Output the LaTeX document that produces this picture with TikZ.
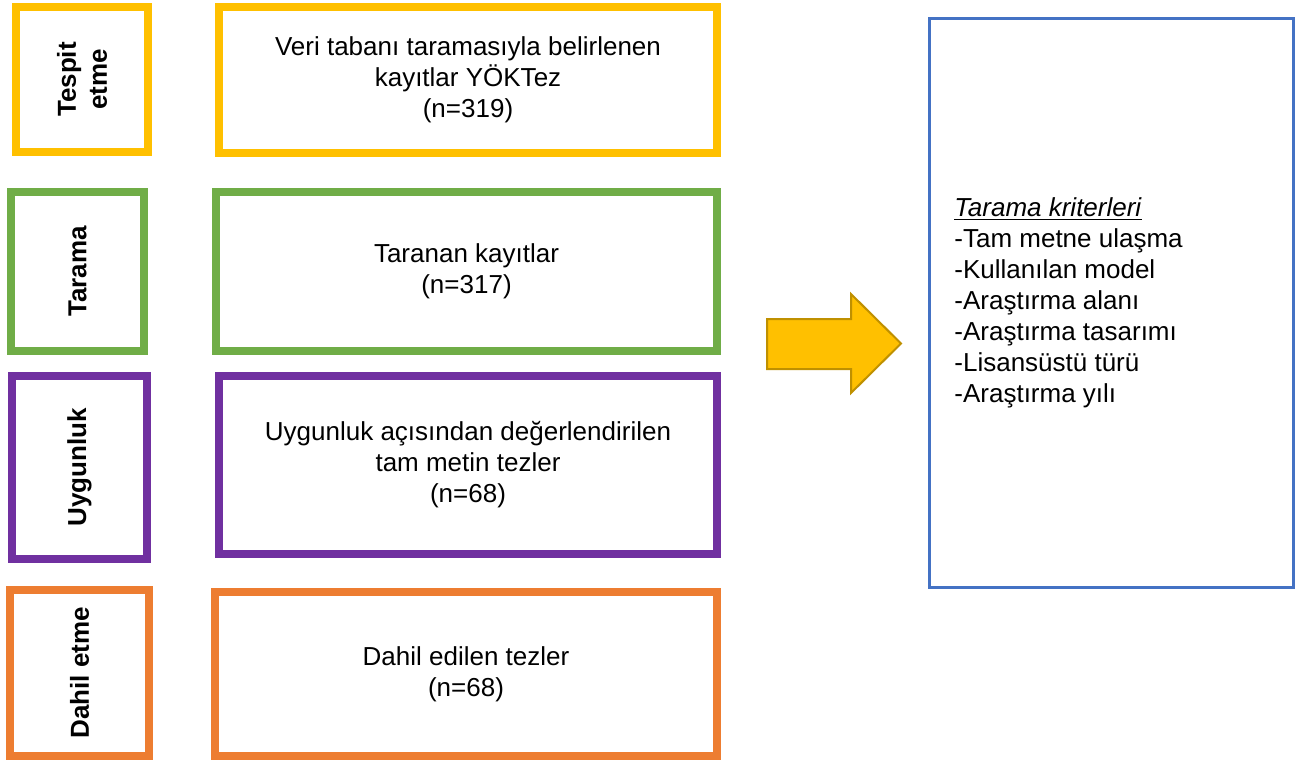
\documentclass[tikz,border=0pt]{standalone}
\usepackage{fontspec}
\setmainfont{Liberation Sans}
\definecolor{sari}{HTML}{FFC000}
\definecolor{koyusari}{HTML}{BF9000}
\definecolor{yesil}{HTML}{70AD47}
\definecolor{mor}{HTML}{7030A0}
\definecolor{turuncu}{HTML}{ED7D31}
\definecolor{mavi}{HTML}{4472C4}

\begin{document}
\begin{tikzpicture}[x=0.5pt, y=-0.5pt, font=\fontsize{13}{15.5}\selectfont,
	evre/.style={draw=#1, line width=4pt, rotate=90, align=center, font=\fontsize{13}{15.5}\selectfont\bfseries},
	kutu/.style={draw=#1, line width=4pt, align=center}]
\useasboundingbox (0,0) rectangle (1310,760);

\node[evre=sari, minimum width=72.5pt, minimum height=66pt] (tespit) at (82,79.5) {Tespit\\etme};
\node[kutu=sari, minimum width=249pt, minimum height=73pt] (veri) at (468,80) {Veri tabanı taramasıyla belirlenen\\kayıtlar YÖKTez\\(n=319)};

\node[evre=yesil, minimum width=79.5pt, minimum height=66.5pt] (tarama) at (77.5,271.5) {Tarama};
\node[kutu=yesil, minimum width=250.5pt, minimum height=79.5pt] (taranan) at (466.5,271.5) {Taranan kayıtlar\\(n=317)};

\node[evre=mor, minimum width=91.5pt, minimum height=67.5pt] (uygun) at (79.5,467.5) {Uygunluk};
\node[kutu=mor, minimum width=249pt, minimum height=89pt] (tamMetin) at (468,465) {Uygunluk açısından değerlendirilen\\tam metin tezler\\(n=68)};

\node[evre=turuncu, minimum width=83pt, minimum height=69.5pt] (dahil) at (79.5,673) {Dahil etme};
\node[kutu=turuncu, minimum width=251pt, minimum height=82pt] (edilen) at (466,674) {Dahil edilen tezler\\(n=68)};

% kriterler
\node[draw=mavi, line width=1.5pt, minimum width=182pt, minimum height=284.5pt] (kriter) at (1111.5,303) {};
\node[anchor=west, inner sep=0pt, align=left] (liste) at (954,303) {\underline{\textit{Tarama kriterleri}}\\-Tam metne ulaşma\\-Kullanılan model\\-Araştırma alanı\\-Araştırma tasarımı\\-Lisansüstü türü\\-Araştırma yılı};

\draw[fill=sari, draw=koyusari, line width=1pt] (767,319)--(851,319)--(851,294)--(901,343.5)--(851,393)--(851,369)--(767,369)--cycle;
\end{tikzpicture}
\end{document}
